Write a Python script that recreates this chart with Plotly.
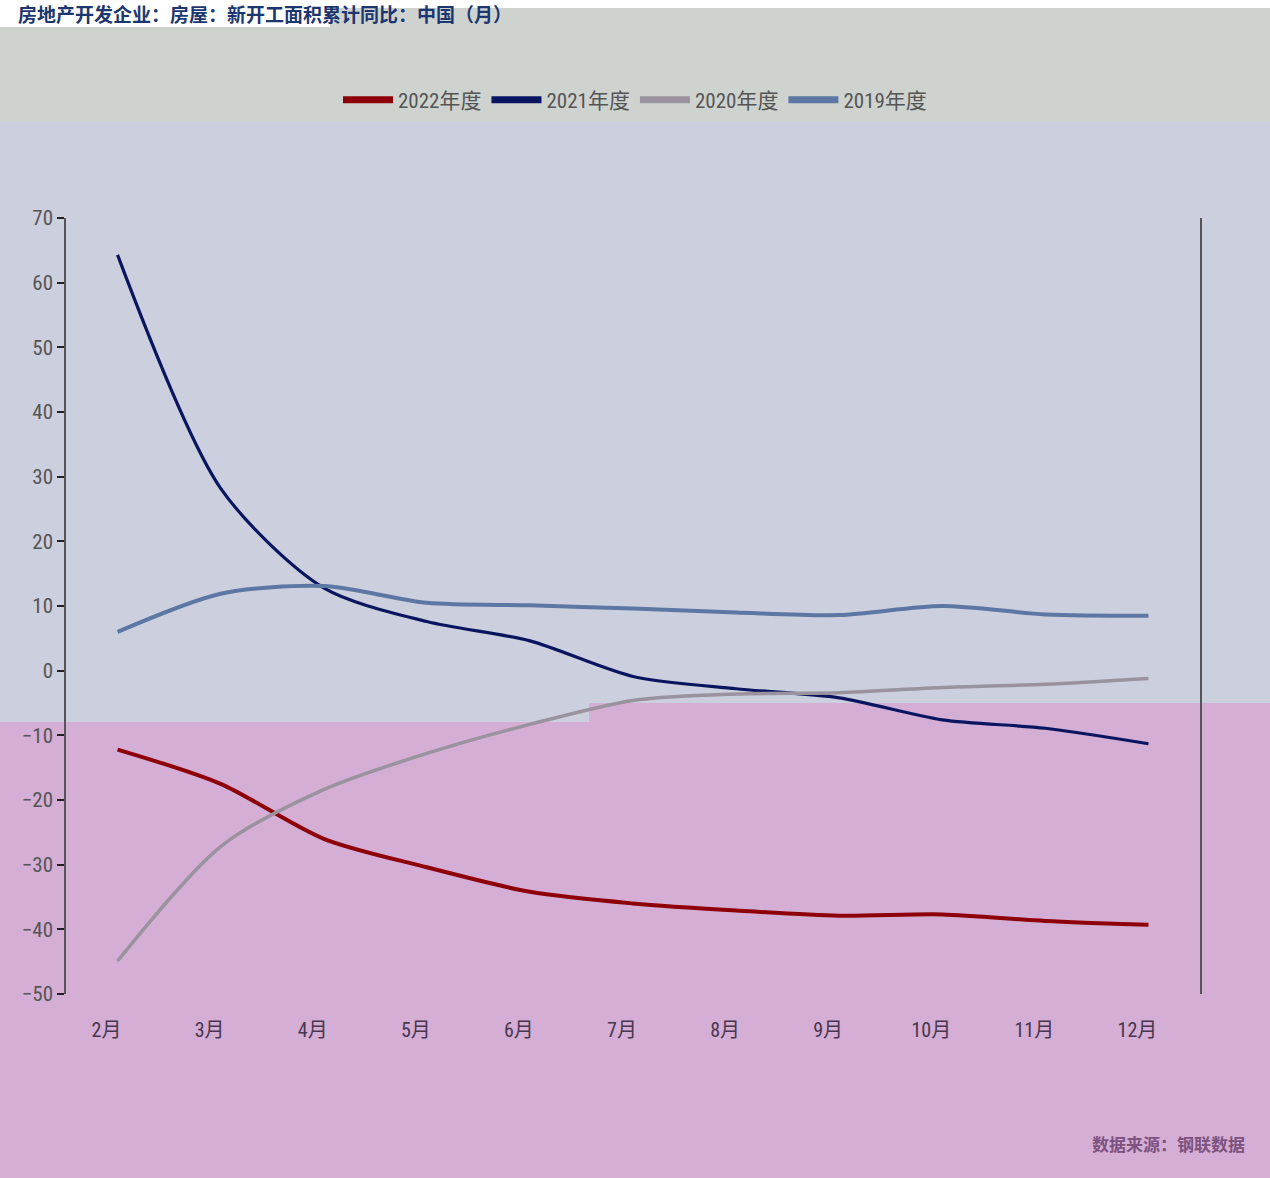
import plotly.graph_objects as go

months = ["2月", "3月", "4月", "5月", "6月", "7月", "8月", "9月", "10月", "11月", "12月"]
s2022 = [-12.2, -17.5, -26.0, -30.4, -34.2, -36.0, -37.1, -37.9, -37.7, -38.7, -39.3]
s2021 = [64.3, 28.2, 12.8, 7.6, 4.6, -0.9, -2.8, -4.2, -7.6, -8.9, -11.3]
s2020 = [-44.9, -27.2, -18.4, -12.8, -8.3, -4.6, -3.6, -3.4, -2.6, -2.1, -1.2]
s2019 = [6.0, 11.9, 13.1, 10.5, 10.1, 9.6, 9.0, 8.6, 10.0, 8.7, 8.5]

series = [
    ("2022年度", s2022, "#8e0008", 4),
    ("2021年度", s2021, "#0a1560", 3.2),
    ("2020年度", s2020, "#9a929e", 3.5),
    ("2019年度", s2019, "#5c77a3", 4),
]

W, H = 1270, 1178
def px(x):
    return x / W
def py(y):
    return 1 - y / H

ymin, ymax = -50, 70
yd0, yd1 = py(994), py(218)
zero_pos = yd0 + (0 - ymin) / (ymax - ymin) * (yd1 - yd0)

narrow = "Liberation Sans Narrow, Roboto Condensed, Arial Narrow, Liberation Sans, Noto Sans CJK SC"

fig = go.Figure()
for name, vals, color, w in series:
    fig.add_trace(go.Scatter(x=months, y=vals, name=name, mode="lines", showlegend=False,
                             legendgroup=name,
                             line=dict(color=color, width=w, shape="spline", smoothing=0.8)))
# legend keys (thicker line samples, no data drawn)
for name, vals, color, w in series:
    fig.add_trace(go.Scatter(x=[None], y=[None], name=name, mode="lines",
                             legendgroup=name, hoverinfo="skip",
                             line=dict(color=color, width=7)))

shapes = [
    dict(type="rect", xref="paper", yref="paper", x0=px(330), x1=1, y0=py(122), y1=py(8),
         fillcolor="#cfd3d0", line_width=0, layer="below"),
    dict(type="rect", xref="paper", yref="paper", x0=0, x1=px(331), y0=py(122), y1=py(27),
         fillcolor="#cfd3d0", line_width=0, layer="below"),
    dict(type="rect", xref="paper", yref="paper", x0=0, x1=px(590), y0=py(722), y1=py(122),
         fillcolor="#cccfdd", line_width=0, layer="below"),
    dict(type="rect", xref="paper", yref="paper", x0=px(589), x1=1, y0=py(703), y1=py(122),
         fillcolor="#cccfdd", line_width=0, layer="below"),
    dict(type="rect", xref="paper", yref="paper", x0=0, x1=px(590), y0=0, y1=py(722),
         fillcolor="#d4aed4", line_width=0, layer="below"),
    dict(type="rect", xref="paper", yref="paper", x0=px(589), x1=1, y0=0, y1=py(703),
         fillcolor="#d4aed4", line_width=0, layer="below"),
]

fig.update_layout(
    width=W, height=H,
    margin=dict(l=0, r=0, t=0, b=0, autoexpand=False),
    paper_bgcolor="white",
    plot_bgcolor="rgba(0,0,0,0)",
    shapes=shapes,
    showlegend=True,
    legend=dict(orientation="h", x=0.5, xanchor="center", y=py(100), yanchor="middle",
                font=dict(family=narrow, size=21, color="#555555"),
                bgcolor="rgba(0,0,0,0)", itemwidth=50, tracegroupgap=0,
                itemclick=False, itemdoubleclick=False),
    xaxis=dict(type="category", domain=[px(66), px(1200)], range=[-0.5, len(months) - 0.5],
               showgrid=False, zeroline=False, showline=False, ticks="",
               tickfont=dict(family=narrow, size=20, color="#4a3550"),
               ticklabelstandoff=22, ticklabelshift=-11, anchor="y"),
    xaxis2=dict(overlaying="x", anchor="free", position=zero_pos, domain=[px(66), px(1200)],
                range=[-0.5, len(months) - 0.5],
                tickvals=[i + 0.5 for i in range(len(months) - 1)],
                showticklabels=False, showgrid=False, zeroline=False,
                showline=True, linecolor="#444444", linewidth=1.5,
                ticks="outside", ticklen=12, tickcolor="#222222", tickwidth=1.5),
    yaxis=dict(domain=[yd0, yd1], range=[ymin, ymax], dtick=10,
               showgrid=False, zeroline=False, showline=True, mirror=True,
               linecolor="#555555", linewidth=1.5,
               ticks="outside", ticklen=7, tickwidth=2, tickcolor="#222222",
               tickfont=dict(family=narrow, size=21, color="#555555"), anchor="x"),
    annotations=[
        dict(text="<b>房地产开发企业：房屋：新开工面积累计同比：中国（月）</b>", xref="paper", yref="paper",
             x=px(16), y=py(13), xanchor="left", yanchor="middle", showarrow=False,
             font=dict(family="Noto Sans CJK SC", size=19, color="#1c3670")),
        dict(text="<b>数据来源：钢联数据</b>", xref="paper", yref="paper",
             x=px(1247), y=py(1143), xanchor="right", yanchor="middle", showarrow=False,
             font=dict(family="Noto Sans CJK SC", size=17, color="#7d527f")),
    ],
)

fig.write_html("out.html", config={"displayModeBar": False},
               post_script="document.body.style.margin='0';document.body.style.overflow='hidden';")
